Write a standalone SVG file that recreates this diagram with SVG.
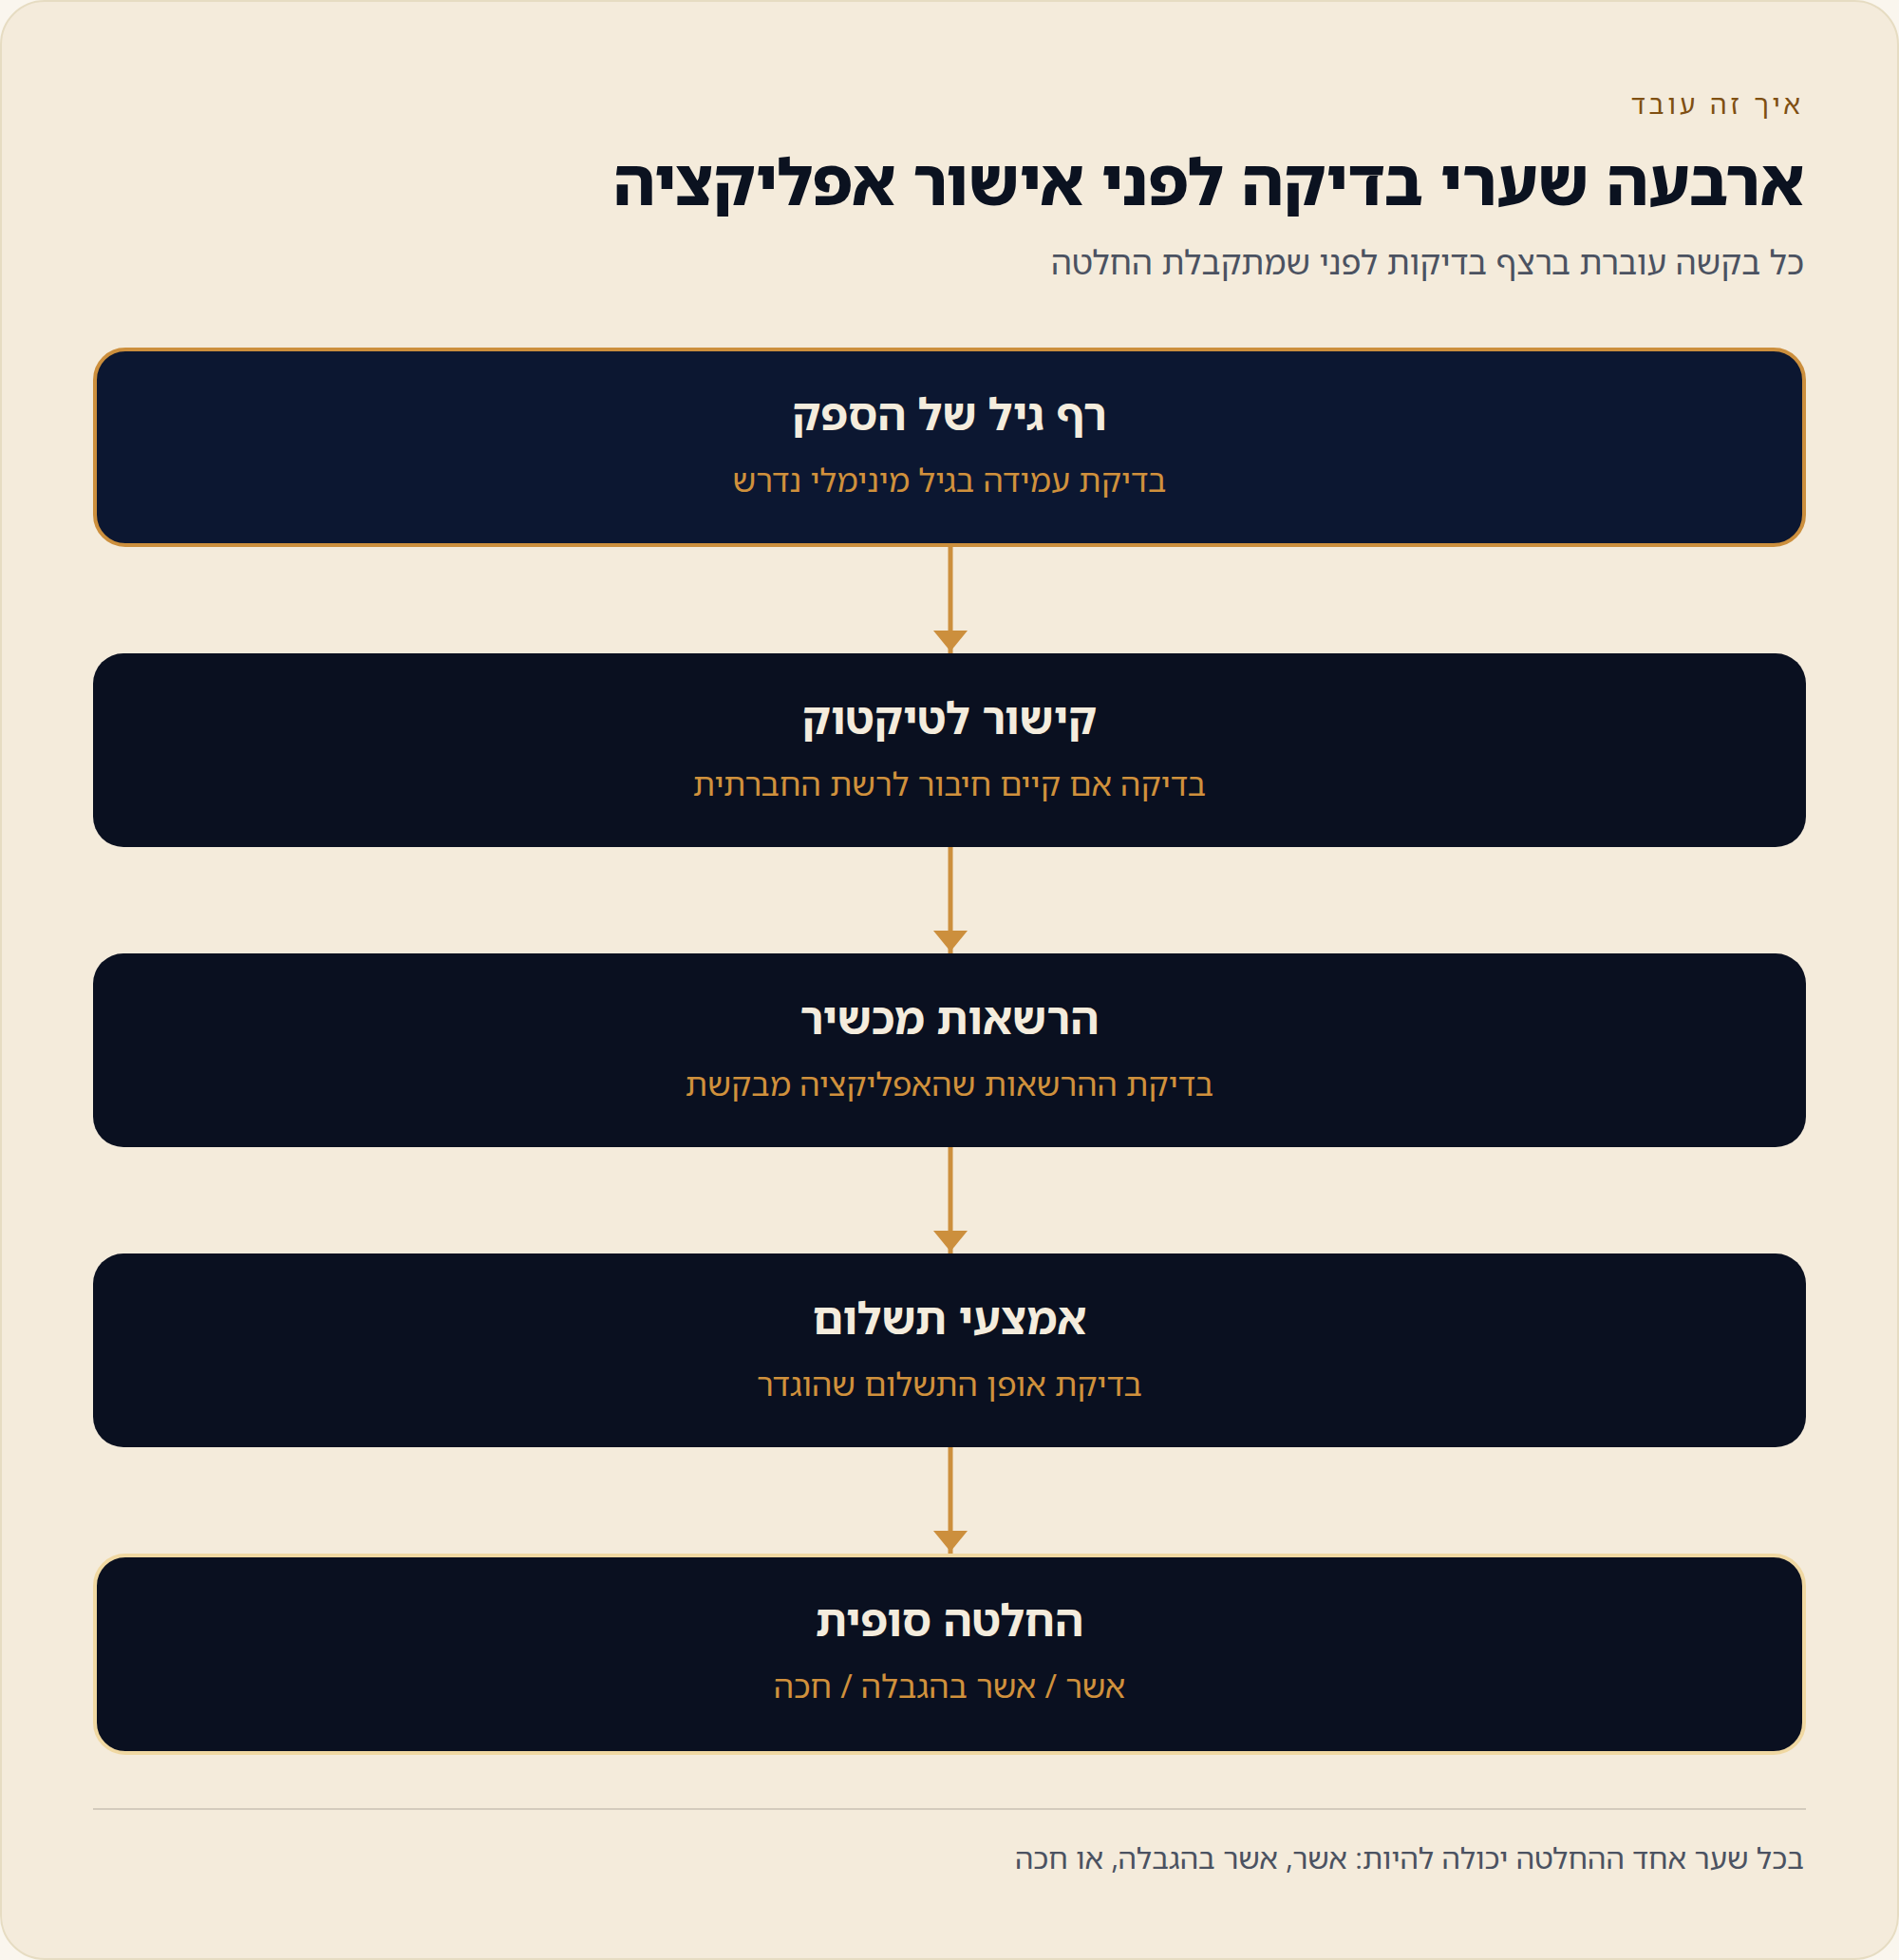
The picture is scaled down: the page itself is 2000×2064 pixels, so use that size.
<svg xmlns="http://www.w3.org/2000/svg" width="2000" height="2064" viewBox="0 0 2000 2064">
<defs>
<style>
text{font-family:"Noto Sans Hebrew","Noto Sans","Open Sans","DejaVu Sans",sans-serif;}
.rt{direction:rtl;text-anchor:start;}
.eyebrow{font-size:28px;fill:#7f4f12;letter-spacing:4px;}
.title{font-size:67px;font-weight:800;fill:#0b1220;}
.sub{font-size:35px;fill:#4b5261;}
.nt{font-size:46px;font-weight:700;fill:#f4ecdd;text-anchor:middle;direction:rtl;}
.ns{font-size:34px;fill:#d0913c;text-anchor:middle;direction:rtl;}
.foot{font-size:31px;fill:#4b5261;}
.node{fill:#0a1020;}
.conn line{stroke:#cc8f3d;stroke-width:5;}
.conn polygon{fill:#cc8f3d;}
</style>
</defs>
<rect x="0" y="0" width="2000" height="2064" fill="#faf6ee"/>
<rect x="1" y="1" width="1998" height="2062" rx="46" fill="#f4ebdb" stroke="#e6dcc2" stroke-width="2"/>

<g id="header">
<text class="eyebrow rt" x="1900" y="120">איך זה עובד</text>
<text class="title rt" x="1900" y="216">ארבעה שערי בדיקה לפני אישור אפליקציה</text>
<text class="sub rt" x="1900" y="289">כל בקשה עוברת ברצף בדיקות לפני שמתקבלת החלטה</text>
</g>

<g id="connectors" class="conn">
<line x1="1001" y1="574" x2="1001" y2="688"/>
<polygon points="983,664 1019,664 1001,686"/>
<line x1="1001" y1="892" x2="1001" y2="1004"/>
<polygon points="983,980 1019,980 1001,1002"/>
<line x1="1001" y1="1208" x2="1001" y2="1320"/>
<polygon points="983,1296 1019,1296 1001,1318"/>
<line x1="1001" y1="1524" x2="1001" y2="1638"/>
<polygon points="983,1612 1019,1612 1001,1634"/>
</g>

<g id="node1">
<rect x="100" y="368" width="1800" height="206" rx="32" fill="#0c1731" stroke="#cc8f3d" stroke-width="4"/>
<text class="nt" x="1000" y="453">רף גיל של הספק</text>
<text class="ns" x="1000" y="518">בדיקת עמידה בגיל מינימלי נדרש</text>
</g>

<g id="node2">
<rect class="node" x="98" y="688" width="1804" height="204" rx="32"/>
<text class="nt" x="1000" y="773">קישור לטיקטוק</text>
<text class="ns" x="1000" y="838">בדיקה אם קיים חיבור לרשת החברתית</text>
</g>

<g id="node3">
<rect class="node" x="98" y="1004" width="1804" height="204" rx="32"/>
<text class="nt" x="1000" y="1089">הרשאות מכשיר</text>
<text class="ns" x="1000" y="1154">בדיקת ההרשאות שהאפליקציה מבקשת</text>
</g>

<g id="node4">
<rect class="node" x="98" y="1320" width="1804" height="204" rx="32"/>
<text class="nt" x="1000" y="1405">אמצעי תשלום</text>
<text class="ns" x="1000" y="1470">בדיקת אופן התשלום שהוגדר</text>
</g>

<g id="node5">
<rect class="node" x="100" y="1638" width="1800" height="208" rx="32" stroke="#f0d8a2" stroke-width="4"/>
<text class="nt" x="1000" y="1723">החלטה סופית</text>
<text class="ns" x="1000" y="1788">אשר / אשר בהגבלה / חכה</text>
</g>

<g id="footer">
<line x1="98" y1="1905" x2="1902" y2="1905" stroke="#d3cbbd" stroke-width="2"/>
<text class="foot rt" x="1900" y="1968">בכל שער אחד ההחלטה יכולה להיות: אשר, אשר בהגבלה, או חכה</text>
</g>
</svg>
